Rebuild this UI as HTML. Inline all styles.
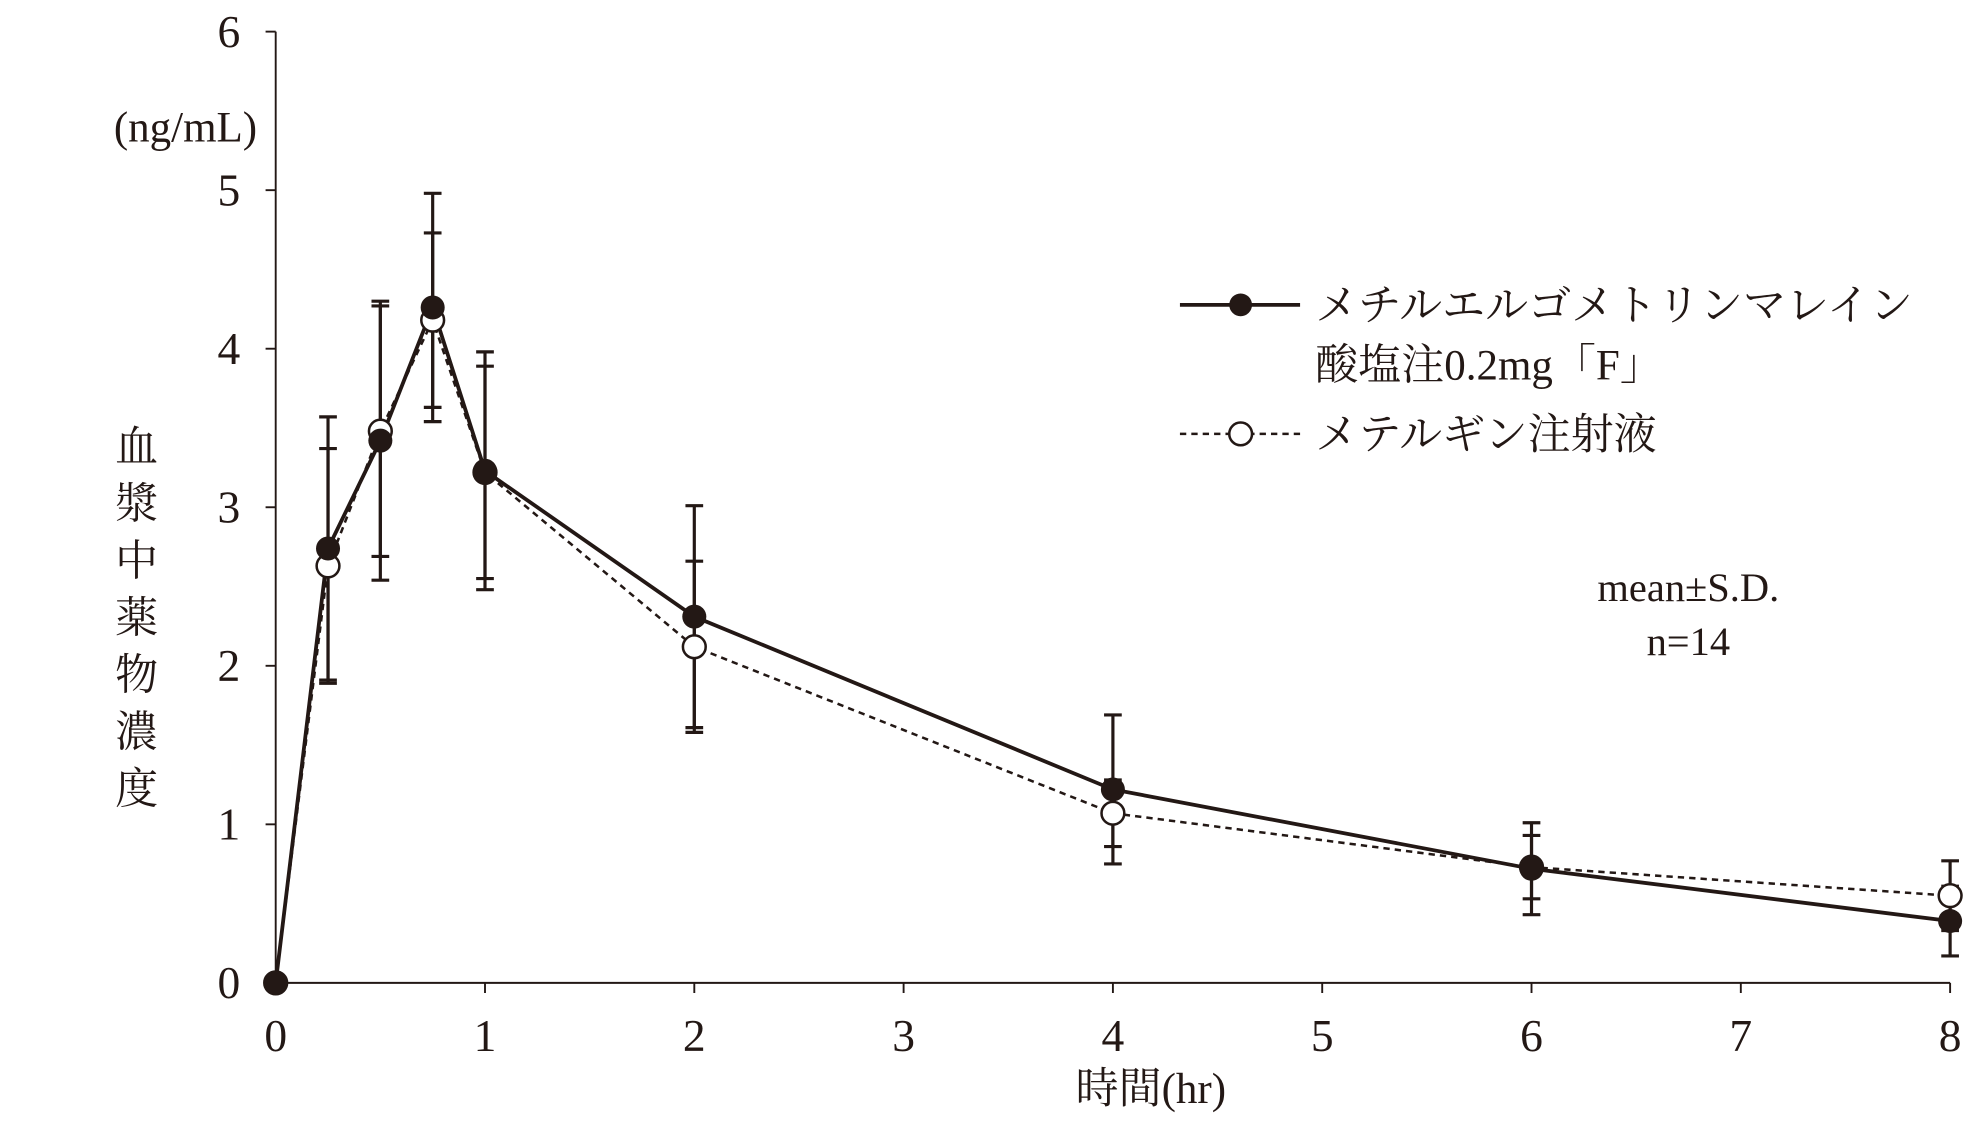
<!DOCTYPE html>
<html><head><meta charset="utf-8"><style>
html,body{margin:0;padding:0;background:#fff;}
svg{display:block;}
text{font-family:"Liberation Serif","Noto Serif CJK SC",serif;fill:#231815;}
</style></head><body>
<svg id="chart" width="1983" height="1141" viewBox="0 0 1568 902" preserveAspectRatio="none" xmlns="http://www.w3.org/2000/svg">
<g id="axes"></g>
<g id="series"></g>
<text x="90" y="112" font-size="34">(ng/mL)</text>
<text x="910" y="872" font-size="34" text-anchor="middle">時間(hr)</text>
<g font-size="34" text-anchor="middle">
<text x="108" y="365">血</text><text x="108" y="410">漿</text><text x="108" y="455">中</text><text x="108" y="500">薬</text><text x="108" y="545">物</text><text x="108" y="590">濃</text><text x="108" y="635">度</text>
</g>
<g font-size="34">
<line x1="933" y1="241" x2="1028" y2="241" stroke="#231815" stroke-width="3"/>
<circle cx="981" cy="241" r="9" fill="#231815"/>
<text x="1040" y="253">メチルエルゴメトリンマレイン</text>
<text x="1040" y="300">酸塩注0.2mg「F」</text>
<line x1="933" y1="343" x2="1028" y2="343" stroke="#231815" stroke-width="2" stroke-dasharray="5,4"/>
<circle cx="981" cy="343" r="9" fill="#fff" stroke="#231815" stroke-width="2"/>
<text x="1040" y="355">メテルギン注射液</text>
</g>
<text x="1335" y="475" font-size="32" text-anchor="middle">mean±S.D.</text>
<text x="1335" y="518" font-size="32" text-anchor="middle">n=14</text>
</svg>
<script>
const times=[0,0.25,0.5,0.75,1,2,4,6,8];
const testMean=[0,2.74,3.42,4.26,3.23,2.31,1.22,0.72,0.39];
const testSD=[0,0.83,0.88,0.72,0.75,0.70,0.47,0.29,0.22];
const refMean=[0,2.63,3.48,4.18,3.22,2.12,1.07,0.73,0.55];
const refSD=[0,0.74,0.79,0.55,0.67,0.54,0.21,0.20,0.22];
const xTicks=[0,1,2,3,4,5,6,7,8];
const yTicks=[0,1,2,3,4,5,6];
const NS="http://www.w3.org/2000/svg";
const X0=218,X1=1542,Y0=777,Y1=25;
const xs=v=>X0+(X1-X0)*v/8, ys=v=>Y0-(Y0-Y1)*v/6;
function mk(tag,attrs,parent){const e=document.createElementNS(NS,tag);for(const k in attrs)e.setAttribute(k,attrs[k]);parent.appendChild(e);return e;}
const ax=document.getElementById('axes'), sr=document.getElementById('series');
const c='#231815';
let l=mk('line',{x1:X0,y1:Y1,x2:X0,y2:Y0,stroke:c,'stroke-width':1.5},ax);


l=mk('line',{x1:X0,y1:Y0,x2:X1,y2:Y0,stroke:c,'stroke-width':1.5},ax);


yTicks.forEach(v=>{mk('line',{x1:X0-8,y1:ys(v),x2:X0,y2:ys(v),stroke:c,'stroke-width':1.5},ax);
 const t=mk('text',{x:X0-28,y:ys(v)+12,'font-size':36,'text-anchor':'end'},ax);t.textContent=v;
 
 });
xTicks.forEach(v=>{mk('line',{x1:xs(v),y1:Y0,x2:xs(v),y2:Y0+8,stroke:c,'stroke-width':1.5},ax);
 const t=mk('text',{x:xs(v),y:Y0+54,'font-size':36,'text-anchor':'middle'},ax);t.textContent=v;
 
 });
function err(m,s,name){times.forEach((t,i)=>{if(!s[i])return;const x=xs(t),a=ys(m[i]+s[i]),b=ys(m[i]-s[i]);
 const g=mk('g',{stroke:c,'stroke-width':2.5},sr);
 
 
 mk('line',{x1:x,y1:a,x2:x,y2:b},g);mk('line',{x1:x-7,y1:a,x2:x+7,y2:a},g);mk('line',{x1:x-7,y1:b,x2:x+7,y2:b},g);});}
err(testMean,testSD,'error-bar-test');err(refMean,refSD,'error-bar-reference');
let p=mk('polyline',{points:times.map((t,i)=>xs(t)+','+ys(refMean[i])).join(' '),fill:'none',stroke:c,'stroke-width':2,'stroke-dasharray':'5,4'},sr);


p=mk('polyline',{points:times.map((t,i)=>xs(t)+','+ys(testMean[i])).join(' '),fill:'none',stroke:c,'stroke-width':3},sr);


times.forEach((t,i)=>{const e=mk('circle',{cx:xs(t),cy:ys(refMean[i]),r:9,fill:'#fff',stroke:c,'stroke-width':2},sr);
 
 });
times.forEach((t,i)=>{const e=mk('circle',{cx:xs(t),cy:ys(testMean[i]),r:9.5,fill:c},sr);
 
 });
</script>
</body></html>
